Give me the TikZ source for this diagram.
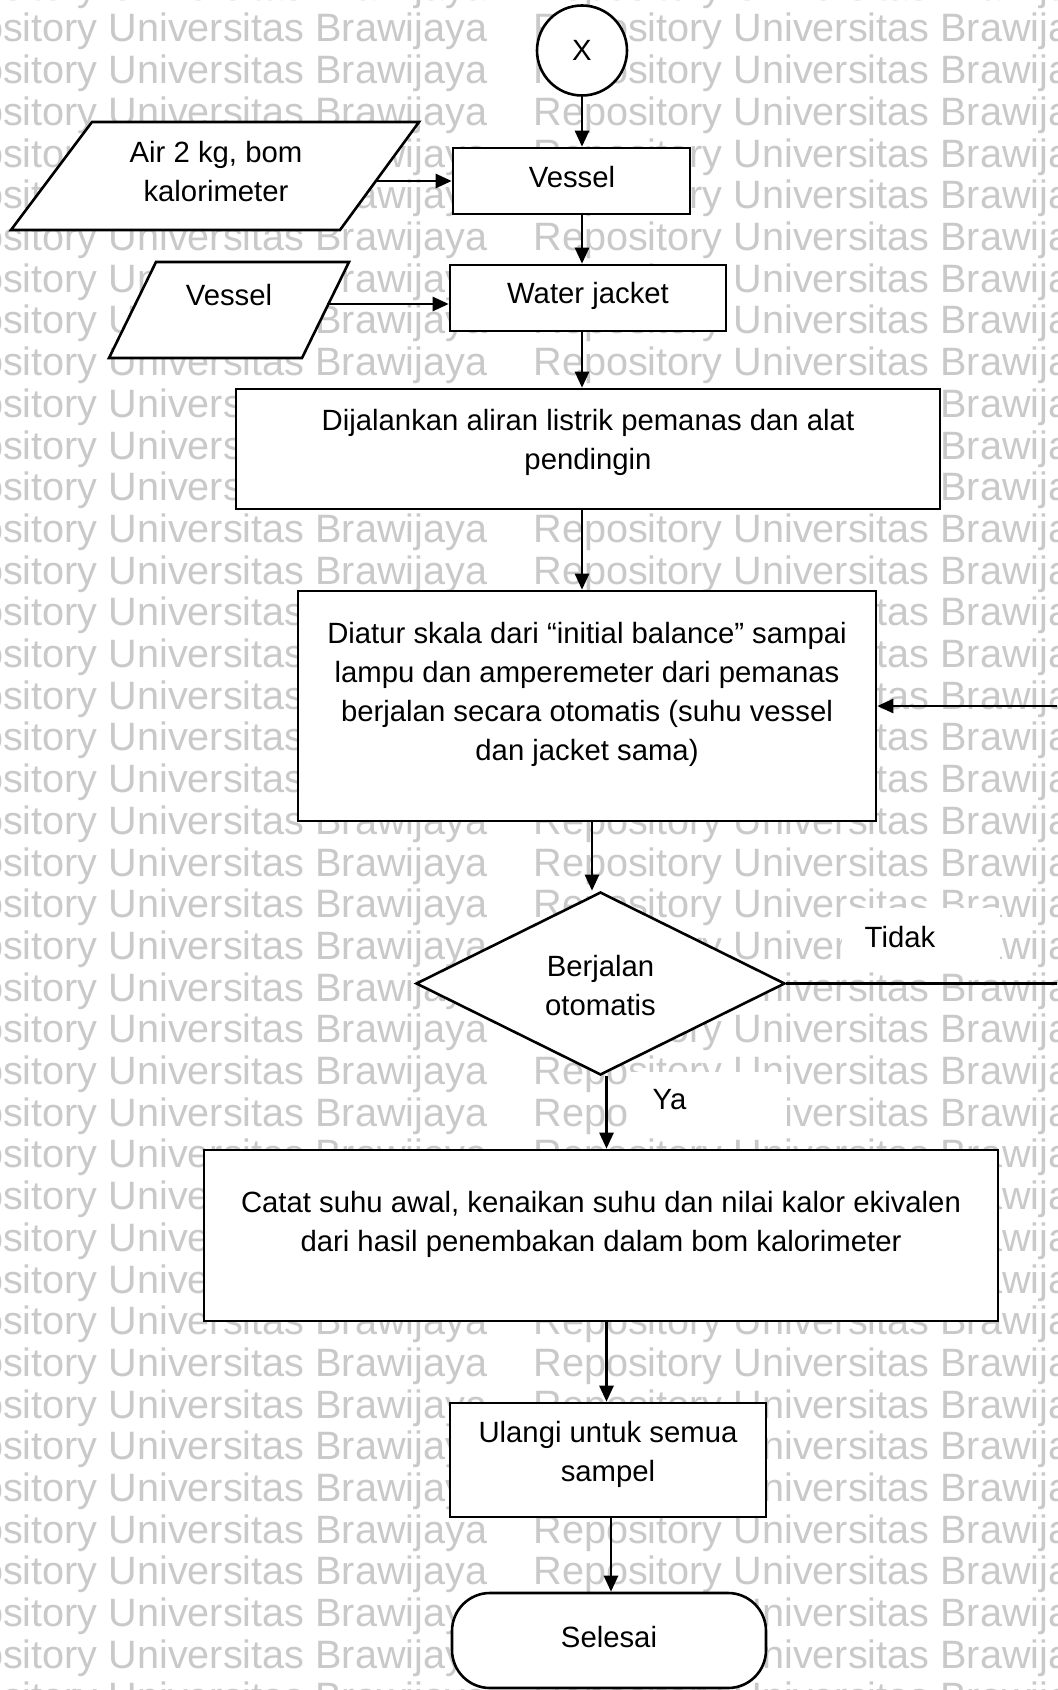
\documentclass[tikz,border=0pt]{standalone}
\usepackage{fontspec}
\setmainfont{Liberation Sans}
\usetikzlibrary{shapes.geometric,arrows.meta,calc}
\definecolor{wm}{gray}{0.79}
\begin{document}
\begin{tikzpicture}[x=0.5pt,y=-0.5pt,
  box/.style={draw,line width=1.3pt,fill=white,inner sep=0pt,rectangle},
  outline/.style={draw,line width=1.3pt,fill=white,line join=miter},
  txt/.style={align=center,font=\fontsize{14.65}{19.5}\selectfont,inner sep=0pt},
  arr/.style={line width=1.3pt,-{Triangle[length=8pt,width=7pt]}},
  wmtext/.style={anchor=base west,inner sep=0pt,text=wm,font=\fontsize{19.8}{20}\selectfont},
  lblbg/.style={fill=white,inner sep=0pt},
  terminal/.style={box,rounded corners=19pt}
]
\useasboundingbox (0,0) rectangle (1057,1690);
\clip (0,0) rectangle (1057,1690);
\fill[white] (0,0) rectangle (1057,1690);

% repository watermark
\foreach \k in {-1,...,40}{
  \node[wmtext] (wl\k) at (-92,{42+41.7*\k}) {Repository Universitas Brawijaya};
  \node[wmtext] (wr\k) at (533,{42+41.7*\k}) {Repository Universitas Brawijaya};
}

% branch labels
\node[lblbg,minimum width=79pt,minimum height=30pt] (tidakbg) at (921,938) {};
\node[txt] (tidak) at (900,937) {Tidak};
\node[lblbg,minimum width=79.5pt,minimum height=32.5pt] (yabg) at (707.5,1104.5) {};
\node[txt] (ya) at (669.5,1100) {Ya};

% terminal connector
\node[box,circle,minimum size=45pt,font=\fontsize{14.65}{19.5}\selectfont] (xc) at (582,50.5) {X};

% input parallelograms
\path[outline] (92,122) -- (419,122) -- (340,230) -- (11,230) -- cycle;
\coordinate (pa) at (377,181);
\node[txt] (tpa) at (216,172) {Air 2 kg, bom\\kalorimeter};

\path[outline] (156,262) -- (349,262) -- (302,358) -- (109,358) -- cycle;
\coordinate (pb) at (327,304);
\node[txt] (tpb) at (229,295) {Vessel};

% process boxes
\node[box,minimum width=118.5pt,minimum height=33pt] (vs) at (571.5,181) {};
\node[txt] (tvs) at (572,177) {Vessel};

\node[box,minimum width=138pt,minimum height=33pt] (wj) at (588,298) {};
\node[txt] (twj) at (588,296) {Water jacket};

\node[box,minimum width=352pt,minimum height=60pt] (dij) at (588,449) {};
\node[txt] (tdij) at (588,442.5) {Dijalankan aliran listrik pemanas dan alat\\pendingin};

\node[box,minimum width=289pt,minimum height=115pt] (diatur) at (587,706) {};
\node[txt] (tdiatur) at (587,694) {Diatur skala dari “initial balance” sampai\\lampu dan amperemeter dari pemanas\\berjalan secara otomatis (suhu vessel\\dan jacket sama)};

\node[draw,line width=1.3pt,fill=white,inner sep=0pt,diamond,
  minimum width=184.5pt,minimum height=91.5pt] (dm) at (600.5,983.5) {};
\node[txt] (tdm) at (600.5,986) {Berjalan\\otomatis};

\node[box,minimum width=397pt,minimum height=85.5pt] (catat) at (601,1235.5) {};
\node[txt] (tcatat) at (601,1224.5) {Catat suhu awal, kenaikan suhu dan nilai kalor ekivalen\\dari hasil penembakan dalam bom kalorimeter};

\node[box,minimum width=158pt,minimum height=57pt] (ulangi) at (608,1460) {};
\node[txt] (tulangi) at (608,1454) {Ulangi untuk semua\\sampel};

\node[terminal,minimum width=157pt,minimum height=47.5pt] (selesai) at (609,1640.5) {};
\node[txt] (tselesai) at (609,1637) {Selesai};

% connectors
\draw[arr] (xc.south) -- (xc.south |- vs.north);
\draw[arr] (xc.south |- vs.south) -- (xc.south |- wj.north);
\draw[arr] (xc.south |- wj.south) -- (xc.south |- dij.north);
\draw[arr] (xc.south |- dij.south) -- (xc.south |- diatur.north);
\draw[arr] (pa) -- (pa -| vs.west);
\draw[arr] (pb) -- (pb -| wj.west);
\draw[arr] ([xshift=2.5pt]diatur.south) -- ([xshift=2.5pt]diatur.south |- dm.north);
\draw[arr] ([xshift=3pt]dm.south) -- ([xshift=3pt]dm.south |- catat.north);
\draw[arr] ([xshift=3pt]dm.south |- catat.south) -- ([xshift=3pt]dm.south |- ulangi.north);
\draw[arr] ([xshift=1.5pt]ulangi.south) -- ([xshift=1.5pt]ulangi.south |- selesai.north);
\draw[arr] (dm.east) -- ++(300,0) |- (diatur.east);
\end{tikzpicture}
\end{document}
